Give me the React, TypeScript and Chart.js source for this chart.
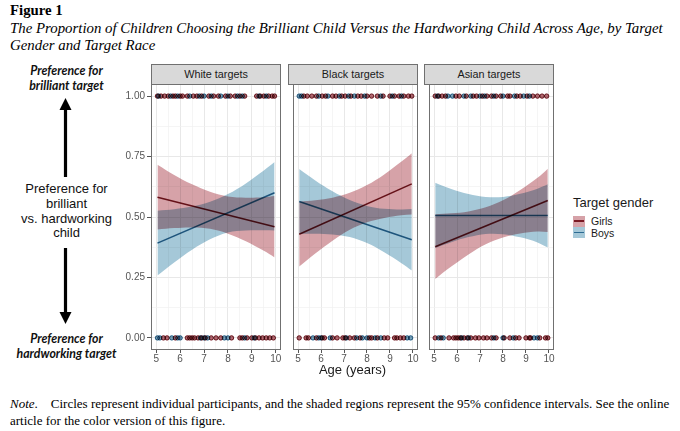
import React, { useEffect, useRef } from "react";
import { Chart, registerables } from "chart.js";

Chart.register(...registerables);

// ---------- data ----------
const panelTitles = ["White targets", "Black targets", "Asian targets"];
const legendLabels = ["Girls", "Boys"];
const xTickValues = [5, 5.5, 6, 6.5, 7, 7.5, 8, 8.5, 9, 9.5, 10];
const yTickValues = [0, 0.125, 0.25, 0.375, 0.5, 0.625, 0.75, 0.875, 1];

const bandAges = [5.05, 5.75, 6.5, 7.25, 8, 8.75, 9.5, 9.95];
const lineAges = [5.05, 9.95];

// White targets
const whiteGirlsFit = [0.582, 0.46];
const whiteBoysFit = [0.392, 0.6];
const whiteGirlsUpper = [0.716, 0.674, 0.635, 0.604, 0.585, 0.58, 0.582, 0.587];
const whiteGirlsLower = [0.448, 0.454, 0.457, 0.451, 0.431, 0.4, 0.36, 0.333];
const whiteBoysUpper = [0.526, 0.532, 0.543, 0.563, 0.595, 0.639, 0.692, 0.727];
const whiteBoysLower = [0.258, 0.312, 0.365, 0.408, 0.436, 0.444, 0.445, 0.444];
const whiteGirlsChoseBrilliant = [5.05, 5.2, 5.35, 5.5, 5.7, 5.8, 6.0, 6.1, 6.3, 6.55, 6.7, 6.9, 7.2, 7.4, 7.6, 7.9, 8.1, 8.3, 8.5, 8.7, 9.2, 9.35, 9.5, 9.7, 9.85, 9.95];
const whiteBoysChoseBrilliant = [5.1, 5.6, 5.9, 6.4, 6.8, 7.0, 7.3, 7.7, 8.0, 8.4, 8.6, 9.3, 9.6];
const whiteGirlsChoseHardworking = [5.3, 5.45, 5.8, 6.3, 6.4, 6.5, 6.6, 6.75, 6.9, 7.05, 7.3, 7.5, 7.7, 8.15, 8.5, 8.6, 8.8, 9.0, 9.15, 9.3, 9.45, 9.6, 9.75, 9.9];
const whiteBoysChoseHardworking = [5.05, 5.15, 5.65, 5.9, 6.0, 6.85, 7.0, 7.15, 7.85, 8.0, 8.7, 9.1];

// Black targets
const blackGirlsFit = [0.429, 0.637];
const blackBoysFit = [0.564, 0.406];
const blackGirlsUpper = [0.563, 0.569, 0.58, 0.6, 0.632, 0.676, 0.729, 0.764];
const blackGirlsLower = [0.295, 0.349, 0.402, 0.447, 0.478, 0.496, 0.507, 0.51];
const blackBoysUpper = [0.698, 0.651, 0.606, 0.57, 0.546, 0.534, 0.531, 0.533];
const blackBoysLower = [0.43, 0.431, 0.428, 0.417, 0.392, 0.354, 0.309, 0.279];
const blackGirlsChoseBrilliant = [5.25, 5.4, 5.6, 5.8, 6.05, 6.2, 6.5, 6.65, 6.9, 7.05, 7.3, 7.6, 7.75, 8.0, 8.2, 8.45, 8.7, 9.0, 9.2, 9.4, 9.6, 9.8, 9.95];
const blackBoysChoseBrilliant = [5.05, 5.15, 5.9, 6.3, 6.8, 7.2, 7.45, 7.9, 8.6, 9.1, 9.5];
const blackGirlsChoseHardworking = [5.05, 5.35, 5.45, 5.8, 6.05, 6.15, 6.5, 6.7, 6.95, 7.05, 7.25, 7.45, 7.7, 8.1, 8.2, 8.45, 8.75, 8.9, 9.2, 9.3, 9.45, 9.6];
const blackBoysChoseHardworking = [5.65, 5.9, 6.0, 6.4, 7.1, 7.55, 7.8, 8.0, 8.35, 8.6, 9.75, 9.9];

// Asian targets
const asianGirlsFit = [0.377, 0.568];
const asianBoysFit = [0.506, 0.506];
const asianGirlsUpper = [0.511, 0.515, 0.523, 0.54, 0.569, 0.612, 0.662, 0.7];
const asianGirlsLower = [0.244, 0.295, 0.345, 0.387, 0.415, 0.432, 0.44, 0.438];
const asianBoysUpper = [0.642, 0.616, 0.595, 0.583, 0.583, 0.596, 0.617, 0.635];
const asianBoysLower = [0.372, 0.396, 0.417, 0.43, 0.429, 0.416, 0.395, 0.374];
const asianGirlsChoseBrilliant = [5.05, 5.2, 5.35, 5.5, 5.95, 6.1, 6.4, 6.7, 6.85, 7.1, 7.3, 7.5, 7.7, 7.9, 8.2, 8.3, 8.6, 8.75, 9.05, 9.3, 9.5, 9.7, 9.9];
const asianBoysChoseBrilliant = [5.15, 5.6, 5.8, 6.3, 6.6, 7.0, 7.2, 7.6, 8.0, 8.5, 8.9, 9.15];
const asianGirlsChoseHardworking = [5.05, 5.3, 5.65, 5.85, 5.95, 6.05, 6.15, 6.3, 6.45, 6.6, 6.8, 6.95, 7.15, 7.3, 7.5, 7.7, 8.05, 8.3, 8.55, 8.7, 9.0, 9.15, 9.2, 9.6, 9.85, 9.95];
const asianBoysChoseHardworking = [5.2, 5.4, 6.2, 6.5, 7.6, 8.0, 8.45, 9.35, 9.5];

// ---------- style ----------
const SANS = '"Liberation Sans", Arial, sans-serif';
const SERIF = '"Liberation Serif", "Times New Roman", serif';
const RED_BAND = "#D6A2A8";
const BLUE_BAND = "#A5C8D8";
const GIRL_LINE = "#7A1A24";
const BOY_LINE = "#2C6B92";
const GIRL_POINT = "#B86A74";
const BOY_POINT = "#78A6BF";
const FRAME = "#707070";
const TICK_TEXT = "#555555";

const X_MIN = 4.78;
const X_MAX = 10.22;
const Y_MIN = -0.05;
const Y_MAX = 1.05;

const PLOT_TOP = 84;
const PLOT_H = 266;
const PLOT_W = 130;
const PANEL_LEFTS = [151, 288, 424];
const Y_AXIS_W = 40;
const X_AXIS_H = 22;
const PAD_R = 10;
const PAD_T = 10;

const panels = [
  {
    gU: whiteGirlsUpper, gL: whiteGirlsLower, bU: whiteBoysUpper, bL: whiteBoysLower,
    gFit: whiteGirlsFit, bFit: whiteBoysFit,
    g1: whiteGirlsChoseBrilliant, b1: whiteBoysChoseBrilliant,
    g0: whiteGirlsChoseHardworking, b0: whiteBoysChoseHardworking,
  },
  {
    gU: blackGirlsUpper, gL: blackGirlsLower, bU: blackBoysUpper, bL: blackBoysLower,
    gFit: blackGirlsFit, bFit: blackBoysFit,
    g1: blackGirlsChoseBrilliant, b1: blackBoysChoseBrilliant,
    g0: blackGirlsChoseHardworking, b0: blackBoysChoseHardworking,
  },
  {
    gU: asianGirlsUpper, gL: asianGirlsLower, bU: asianBoysUpper, bL: asianBoysLower,
    gFit: asianGirlsFit, bFit: asianBoysFit,
    g1: asianGirlsChoseBrilliant, b1: asianBoysChoseBrilliant,
    g0: asianGirlsChoseHardworking, b0: asianBoysChoseHardworking,
  },
];

const zip = (xs: number[], ys: number[]) => xs.map((x, i) => ({ x, y: ys[i] }));
const pts = (ones: number[], zeros: number[]) => [
  ...ones.map((x) => ({ x, y: 1 })),
  ...zeros.map((x) => ({ x, y: 0 })),
];

const facetPlugin = {
  id: "facetLook",
  beforeDatasetsDraw(chart: any) {
    chart.ctx.save();
    chart.ctx.globalCompositeOperation = "multiply";
  },
  afterDatasetsDraw(chart: any) {
    chart.ctx.restore();
  },
  afterDraw(chart: any) {
    const { ctx, chartArea: a } = chart;
    ctx.save();
    ctx.strokeStyle = FRAME;
    ctx.lineWidth = 1;
    ctx.strokeRect(Math.round(a.left) + 0.5, Math.round(a.top) + 0.5, Math.round(a.right - a.left) - 1, Math.round(a.bottom - a.top) - 1);
    ctx.restore();
  },
};

const isMajorX = (v: number) => Number.isInteger(v);
const isMajorY = (v: number) => Math.abs(v * 4 - Math.round(v * 4)) < 1e-9;

function makeConfig(p: any, showY: boolean): any {
  const bandBase = { borderColor: "rgba(0,0,0,0)", borderWidth: 0, pointRadius: 0, tension: 0.35 };
  const pointBase = { type: "scatter", showLine: false, pointRadius: 2.2, borderWidth: 1 };
  return {
    type: "line",
    data: {
      datasets: [
        { ...pointBase, data: pts(p.b1, p.b0), backgroundColor: BOY_POINT, borderColor: BOY_LINE },
        { ...pointBase, data: pts(p.g1, p.g0), backgroundColor: GIRL_POINT, borderColor: GIRL_LINE },
        { data: zip(lineAges, p.bFit), borderColor: BOY_LINE, borderWidth: 1.6, pointRadius: 0, fill: false },
        { data: zip(lineAges, p.gFit), borderColor: GIRL_LINE, borderWidth: 1.6, pointRadius: 0, fill: false },
        { ...bandBase, data: zip(bandAges, p.gU), fill: "+1", backgroundColor: RED_BAND },
        { ...bandBase, data: zip(bandAges, p.gL), fill: false },
        { ...bandBase, data: zip(bandAges, p.bU), fill: "+1", backgroundColor: BLUE_BAND },
        { ...bandBase, data: zip(bandAges, p.bL), fill: false },
      ],
    },
    options: {
      animation: false,
      responsive: false,
      maintainAspectRatio: false,
      devicePixelRatio: 1,
      layout: { padding: { left: 0, right: PAD_R, top: PAD_T, bottom: 0 } },
      plugins: { legend: { display: false }, tooltip: { enabled: false }, title: { display: false } },
      scales: {
        x: {
          type: "linear",
          min: X_MIN,
          max: X_MAX,
          afterBuildTicks: (s: any) => {
            s.ticks = xTickValues.map((v) => ({ value: v }));
          },
          afterFit: (s: any) => {
            s.height = X_AXIS_H;
          },
          border: { display: false },
          grid: {
            color: (c: any) => (c.tick && isMajorX(c.tick.value) ? "#E8E8E8" : "#F1F1F1"),
            lineWidth: (c: any) => (c.tick && isMajorX(c.tick.value) ? 1 : 0.7),
            tickLength: 3,
            tickColor: (c: any) => (c.tick && isMajorX(c.tick.value) ? "#555" : "rgba(0,0,0,0)"),
            tickWidth: 1,
          },
          ticks: {
            autoSkip: false,
            maxRotation: 0,
            padding: 0,
            color: TICK_TEXT,
            font: { family: SANS, size: 10 },
            callback: (v: any) => (isMajorX(Number(v)) ? String(v) : ""),
          },
        },
        y: {
          type: "linear",
          min: Y_MIN,
          max: Y_MAX,
          afterBuildTicks: (s: any) => {
            s.ticks = yTickValues.map((v) => ({ value: v }));
          },
          afterFit: (s: any) => {
            s.width = showY ? Y_AXIS_W : 0;
          },
          border: { display: false },
          grid: {
            color: (c: any) => (c.tick && isMajorY(c.tick.value) ? "#E8E8E8" : "#F1F1F1"),
            lineWidth: (c: any) => (c.tick && isMajorY(c.tick.value) ? 1 : 0.7),
            drawTicks: showY,
            tickLength: 4,
            tickColor: (c: any) => (c.tick && isMajorY(c.tick.value) ? "#555" : "rgba(0,0,0,0)"),
            tickWidth: 1,
          },
          ticks: {
            display: showY,
            autoSkip: false,
            padding: 2,
            color: TICK_TEXT,
            font: { family: SANS, size: 10 },
            callback: (v: any) => (isMajorY(Number(v)) ? Number(v).toFixed(2) : ""),
          },
        },
      },
    },
    plugins: [facetPlugin],
  };
}

function Panel({ index }: { index: number }) {
  const ref = useRef<HTMLCanvasElement | null>(null);
  const showY = index === 0;
  const w = (showY ? Y_AXIS_W : 0) + PLOT_W + PAD_R;
  const h = PAD_T + PLOT_H + X_AXIS_H;
  const left = PANEL_LEFTS[index] - (showY ? Y_AXIS_W : 0);
  useEffect(() => {
    if (!ref.current) return;
    const chart = new Chart(ref.current, makeConfig(panels[index], showY));
    return () => chart.destroy();
  }, [index, showY]);
  return (
    <>
      <canvas
        ref={ref}
        width={w}
        height={h}
        style={{ position: "absolute", left, top: PLOT_TOP - PAD_T, width: w, height: h, display: "block" }}
      />
      <div
        style={{
          position: "absolute",
          left: PANEL_LEFTS[index],
          top: 64,
          width: PLOT_W,
          height: 21,
          boxSizing: "border-box",
          background: "#D9D9D9",
          border: `1px solid ${FRAME}`,
          fontFamily: SANS,
          fontSize: 10.8,
          color: "#1a1a1a",
          textAlign: "center",
          lineHeight: "19px",
        }}
      >
        {panelTitles[index]}
      </div>
    </>
  );
}

function Arrow({ x, y1, y2, up }: { x: number; y1: number; y2: number; up: boolean }) {
  const headH = 12;
  const headW = 6;
  const tip = up ? y1 : y2;
  const base = up ? y1 + headH : y2 - headH;
  const shaftA = up ? base : y1;
  const shaftB = up ? y2 : base;
  return (
    <svg style={{ position: "absolute", left: 0, top: 0, overflow: "visible" }} width={1} height={1}>
      <line x1={x} x2={x} y1={shaftA} y2={shaftB} stroke="#000" strokeWidth={3.2} />
      <polygon points={`${x},${tip} ${x - headW},${base} ${x + headW},${base}`} fill="#000" />
    </svg>
  );
}

export default function App() {
  const abs = (top: number, extra: any = {}) => ({ position: "absolute" as const, top, ...extra });
  const leftText = (top: number, italic: boolean) =>
    abs(top, {
      left: 0,
      width: 133,
      textAlign: "center",
      whiteSpace: "nowrap",
      lineHeight: "15px",
      fontFamily: italic ? 'Lato, "Open Sans", sans-serif' : SANS,
      fontStyle: italic ? "italic" : "normal",
      fontWeight: italic ? 700 : 400,
      fontSize: italic ? 12.3 : 13,
      color: "#111",
    });
  return (
    <div style={{ position: "absolute", left: 0, top: 0, width: 680, height: 431, background: "#fff", overflow: "hidden" }}>
      {/* Title */}
      <div style={abs(2, { left: 10, fontFamily: SERIF, fontWeight: 700, fontSize: 14.8, lineHeight: "16px", color: "#000" })}>
        Figure 1
      </div>
      <div style={abs(20, { left: 10, fontFamily: SERIF, fontStyle: "italic", fontSize: 14.85, lineHeight: "16px", whiteSpace: "nowrap", color: "#000" })}>
        The Proportion of Children Choosing the Brilliant Child Versus the Hardworking Child Across Age, by Target
      </div>
      <div style={abs(36.5, { left: 10, fontFamily: SERIF, fontStyle: "italic", fontSize: 14.85, lineHeight: "16px", whiteSpace: "nowrap", color: "#000" })}>
        Gender and Target Race
      </div>

      {/* Left annotation */}
      <div style={leftText(62.5, true)}>Preference for</div>
      <div style={leftText(77.5, true)}>brilliant target</div>
      <Arrow x={65.5} y1={98} y2={177} up={true} />
      <div style={leftText(180.5, false)}>Preference for</div>
      <div style={leftText(195.5, false)}>brilliant</div>
      <div style={leftText(210.5, false)}>vs. hardworking</div>
      <div style={leftText(224.5, false)}>child</div>
      <Arrow x={65.5} y1={248} y2={324} up={false} />
      <div style={leftText(330.5, true)}>Preference for</div>
      <div style={leftText(345.5, true)}>hardworking target</div>

      {/* Panels */}
      <Panel index={0} />
      <Panel index={1} />
      <Panel index={2} />

      {/* x-axis title */}
      <div style={abs(362, { left: 151, width: 403, textAlign: "center", fontFamily: SANS, fontSize: 13, lineHeight: "16px", color: "#1a1a1a" })}>
        Age (years)
      </div>

      {/* Legend */}
      <div style={abs(195, { left: 573, fontFamily: SANS, fontSize: 13, lineHeight: "16px", color: "#1a1a1a", whiteSpace: "nowrap" })}>
        Target gender
      </div>
      {[0, 1].map((i) => (
        <React.Fragment key={i}>
          <div
            style={abs(215.5 + i * 11.5, {
              left: 573,
              width: 12,
              height: 11,
              background: i === 0 ? RED_BAND : BLUE_BAND,
            })}
          >
            <div style={{ position: "absolute", left: 1, right: 1, top: 4.5, height: 1.8, background: i === 0 ? GIRL_LINE : BOY_LINE }} />
          </div>
          <div style={abs(214 + i * 11.5, { left: 591, fontFamily: SANS, fontSize: 10.5, lineHeight: "14px", color: "#1a1a1a" })}>
            {legendLabels[i]}
          </div>
        </React.Fragment>
      ))}

      {/* Note */}
      <div style={abs(394.5, { left: 10, fontFamily: SERIF, fontSize: 13, lineHeight: "17px", whiteSpace: "nowrap", color: "#000" })}>
        <i>Note</i>.{"\u00A0\u00A0\u00A0 "}Circles represent individual participants, and the shaded regions represent the 95% confidence intervals. See the online
      </div>
      <div style={abs(411.5, { left: 10, fontFamily: SERIF, fontSize: 13, lineHeight: "17px", whiteSpace: "nowrap", color: "#000" })}>
        article for the color version of this figure.
      </div>
    </div>
  );
}
